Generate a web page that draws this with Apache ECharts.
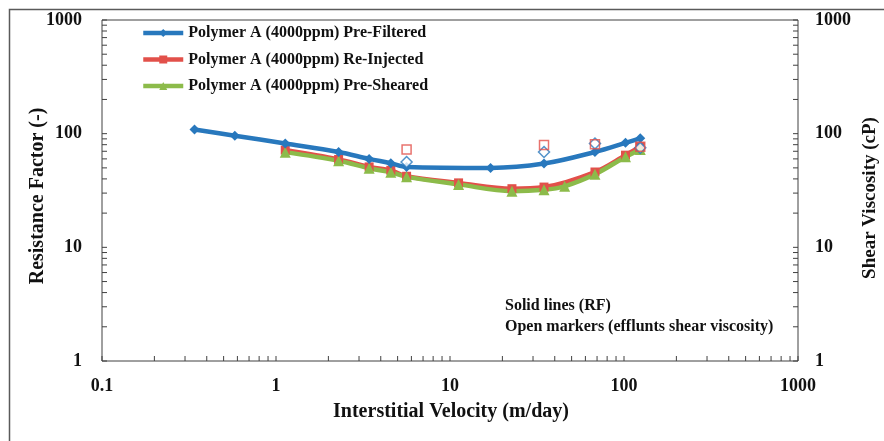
<!DOCTYPE html>
<html>
<head>
<meta charset="utf-8">
<script src="https://cdn.jsdelivr.net/npm/echarts@6/dist/echarts.min.js"></script>
<style>
html,body{margin:0;padding:0;background:#fff;}
#chart{width:884px;height:441px;}
</style>
</head>
<body>
<div id="chart"></div>
<script>
// ---- data ----
const seriesNames = ['Polymer A (4000ppm) Pre-Filtered', 'Polymer A (4000ppm) Re-Injected', 'Polymer A (4000ppm) Pre-Sheared'];
const pfX  = [0.34, 0.58, 1.13, 2.29, 3.43, 4.57, 5.63, 17.1, 34.7, 68.1, 102, 124];
const pfRF = [109, 96, 82, 69, 60, 55, 51, 50, 54.6, 69, 83, 91];
const riX  = [1.13, 2.29, 3.43, 4.57, 5.63, 11.2, 22.7, 34.7, 68.1, 102, 124];
const riRF = [71.7, 59.3, 51, 47.6, 42.2, 36.9, 32.8, 33.9, 46, 64.7, 76.7];
const psX  = [1.13, 2.29, 3.43, 4.57, 5.63, 11.2, 22.7, 34.7, 45.6, 68.1, 102, 124];
const psRF = [68.8, 57.8, 49.6, 45.7, 41.7, 35.8, 31.2, 32.1, 34.4, 43.9, 62.5, 72.7];
// effluent shear viscosity (open markers, right axis)
const pfVisX = [5.63, 34.7, 68.1, 124];
const pfVis  = [56.4, 69, 82, 75];
const riVisX = [5.63, 34.7, 68.1, 124];
const riVis  = [72.7, 79.4, 80.5, 76.7];
// axis ticks
const xTickLabels = ['0.1', '1', '10', '100', '1000'];
const yTickLabels = ['1', '10', '100', '1000'];
const xMin = 0.1, xMax = 1000, yMin = 1, yMax = 1000;

const BLUE = '#2878bd', RED = '#e2504a', GREEN = '#8cbb4a';
const FONT = 'Liberation Serif';

function zip(a, b) { return a.map((v, i) => [v, b[i]]); }
function logTicks(lo, hi) {
  const out = [];
  for (let d = lo; d < hi; d *= 10) {
    for (let k = 1; k <= 9; k++) out.push(+(d * k).toPrecision(6));
  }
  out.push(hi);
  return out;
}
const xTicks = logTicks(xMin, xMax);
const yTicks = logTicks(yMin, yMax);

const chart = echarts.init(document.getElementById('chart'), null, {renderer: 'canvas'});

const tickStyle = {stroke: '#404040', lineWidth: 1};

const option = {
  backgroundColor: '#fff',
  animation: false,
  grid: {left: 102, right: 86, top: 20, bottom: 80, show: true, borderColor: '#404040', borderWidth: 1, backgroundColor: 'transparent'},
  legend: {
    data: seriesNames,
    orient: 'vertical',
    left: 136, top: 20,
    itemWidth: 40, itemHeight: 10, itemGap: 10.5,
    lineStyle: {width: 4.5},
    textStyle: {fontFamily: FONT, fontWeight: 'bold', fontSize: 16, color: '#111'}
  },
  xAxis: {
    type: 'log', logBase: 10, min: xMin, max: xMax,
    axisLine: {show: false}, axisTick: {show: false}, splitLine: {show: false},
    axisLabel: {
      margin: 16, fontFamily: FONT, fontWeight: 'bold', fontSize: 18, color: '#111',
      formatter: v => { const s = String(+v.toPrecision(6)); return xTickLabels.includes(s) ? s : ''; }
    }
  },
  yAxis: [
    {
      type: 'log', logBase: 10, min: yMin, max: yMax,
      axisLine: {show: false}, axisTick: {show: false}, splitLine: {show: false},
      axisLabel: {
        margin: 20, fontFamily: FONT, fontWeight: 'bold', fontSize: 18, color: '#111',
        formatter: v => { const s = String(+v.toPrecision(6)); return yTickLabels.includes(s) ? s : ''; }
      }
    },
    {
      type: 'log', logBase: 10, min: yMin, max: yMax, position: 'right',
      axisLine: {show: false}, axisTick: {show: false}, splitLine: {show: false},
      axisLabel: {
        margin: 17, fontFamily: FONT, fontWeight: 'bold', fontSize: 18, color: '#111',
        formatter: v => { const s = String(+v.toPrecision(6)); return yTickLabels.includes(s) ? s : ''; }
      }
    }
  ],
  series: [
    // ticks
    {
      type: 'custom', silent: true, clip: false, z: 1,
      data: xTicks.map(v => [v, yMin]),
      renderItem: (params, api) => {
        const p = api.coord([api.value(0), yMin]);
        return {type: 'line', shape: {x1: p[0], y1: p[1], x2: p[0], y2: p[1] - 5}, style: tickStyle};
      }
    },
    {
      type: 'custom', silent: true, clip: false, z: 1,
      data: yTicks.map(v => [xMin, v]),
      renderItem: (params, api) => {
        const p = api.coord([xMin, api.value(1)]);
        return {type: 'line', shape: {x1: p[0], y1: p[1], x2: p[0] + 5, y2: p[1]}, style: tickStyle};
      }
    },
    {
      type: 'custom', silent: true, clip: false, z: 1, yAxisIndex: 1,
      data: yTicks.map(v => [xMax, v]),
      renderItem: (params, api) => {
        const p = api.coord([xMax, api.value(1)]);
        return {type: 'line', shape: {x1: p[0], y1: p[1], x2: p[0] - 5, y2: p[1]}, style: tickStyle};
      }
    },
    // RF lines
    {
      name: seriesNames[0], type: 'line', smooth: 0.35, data: zip(pfX, pfRF),
      symbol: 'diamond', symbolSize: 10, z: 4,
      lineStyle: {color: BLUE, width: 4.5}, itemStyle: {color: BLUE}
    },
    {
      name: seriesNames[1], type: 'line', smooth: 0.35, data: zip(riX, riRF),
      symbol: 'rect', symbolSize: 9, z: 3,
      lineStyle: {color: RED, width: 4.5}, itemStyle: {color: RED}
    },
    {
      name: seriesNames[2], type: 'line', smooth: 0.35, data: zip(psX, psRF),
      symbol: 'triangle', symbolSize: 11, z: 3,
      lineStyle: {color: GREEN, width: 4.5}, itemStyle: {color: GREEN}
    },
    // open markers (shear viscosity)
    {
      name: 'pfVis', type: 'scatter', yAxisIndex: 1, data: zip(pfVisX, pfVis),
      symbol: 'diamond', symbolSize: 11, z: 5,
      itemStyle: {color: '#fff', borderColor: BLUE, borderWidth: 1.5}
    },
    {
      name: 'riVis', type: 'scatter', yAxisIndex: 1, data: zip(riVisX, riVis),
      symbol: 'rect', symbolSize: 9, z: 5,
      itemStyle: {color: 'transparent', borderColor: RED, borderWidth: 1.5}
    }
  ],
  graphic: [
    {type: 'rect', shape: {x: 9.5, y: 9.5, width: 1000, height: 1000}, style: {fill: 'none', stroke: '#5a5a5a', lineWidth: 1.5}, silent: true, z: 0},
    {type: 'text', x: 38, y: 196, rotation: Math.PI / 2,
      style: {text: 'Resistance Factor (-)', fontFamily: FONT, fontWeight: 'bold', fontSize: 20, fill: '#111', align: 'center', verticalAlign: 'middle'}},
    {type: 'text', x: 870, y: 198, rotation: Math.PI / 2,
      style: {text: 'Shear Viscosity (cP)', fontFamily: FONT, fontWeight: 'bold', fontSize: 19, fill: '#111', align: 'center', verticalAlign: 'middle'}},
    {type: 'text', x: 451, y: 412,
      style: {text: 'Interstitial Velocity (m/day)', fontFamily: FONT, fontWeight: 'bold', fontSize: 20, fill: '#111', align: 'center', verticalAlign: 'middle'}},
    {type: 'text', x: 505, y: 306,
      style: {text: 'Solid lines (RF)', fontFamily: FONT, fontWeight: 'bold', fontSize: 16, fill: '#111', align: 'left', verticalAlign: 'middle'}},
    {type: 'text', x: 505, y: 327,
      style: {text: 'Open markers (efflunts shear viscosity)', fontFamily: FONT, fontWeight: 'bold', fontSize: 16, fill: '#111', align: 'left', verticalAlign: 'middle'}}
  ]
};
chart.setOption(option);
</script>
</body>
</html>
